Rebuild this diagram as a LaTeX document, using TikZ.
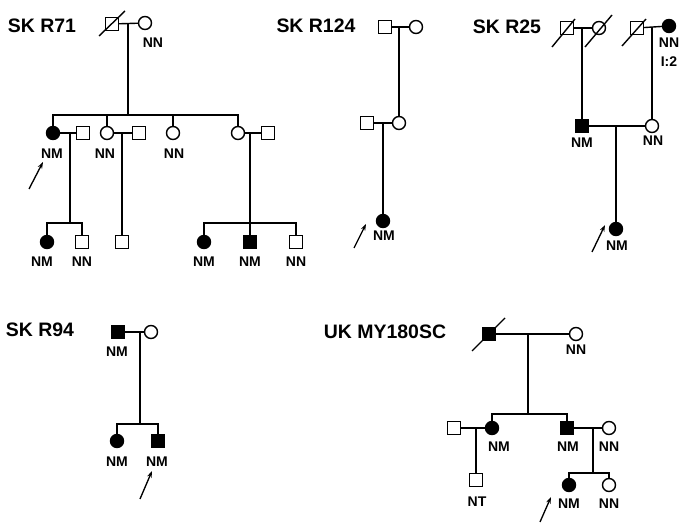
\documentclass[tikz,border=0pt]{standalone}
\usepackage{fontspec}
\setmainfont{Liberation Sans}
\usetikzlibrary{calc,arrows.meta}
\begin{document}
\begin{tikzpicture}[x=0.75pt,y=-0.75pt,line width=1.05pt,
 sq/.style={draw,rectangle,minimum size=9.5pt,inner sep=0pt},
 ci/.style={draw,circle,minimum size=9.75pt,inner sep=0pt},
 aff/.style={fill=black},
 lbl/.style={font=\fontsize{10.5}{12}\selectfont\bfseries,inner sep=0pt},
 ttl/.style={font=\fontsize{14.6}{17}\selectfont\bfseries,inner sep=0pt},
 arr/.style={-{Stealth[length=5pt,width=3.5pt]},line width=1pt}]
\useasboundingbox (0,0) rectangle (692,523);
% deceased stroke: node, lower-left offset, upper-right offset
\newcommand{\dead}[3]{\draw ($(#1)+#2$) -- ($(#1)+#3$);}

% ---------------- SK R71
\node[ttl] (t71) at (42,26) {SK R71};
\node[sq] (a1) at (112,24) {};
\node[ci] (a2) at (145,23) {};
\dead{a1}{(-13,12)}{(13,-13)}
\draw (a1) -- (a2);
\node[lbl] (la2) at (153,43) {NN};
\coordinate (am) at (128,24);
\coordinate (as) at (128,115);
\draw (am) -- (as);
\node[ci,aff] (b1) at (53,133) {};
\node[sq] (b2) at (83,133) {};
\node[ci] (b3) at (107,133) {};
\node[sq] (b4) at (139,133) {};
\node[ci] (b5) at (173,133) {};
\node[ci] (b6) at (238,133) {};
\node[sq] (b7) at (268,133) {};
\draw (b1.north) -- (b1.north |- as) -- (b6.north |- as) -- (b6.north);
\draw (b3.north) -- (b3.north |- as);
\draw (b5.north) -- (b5.north |- as);
\draw (b1) -- (b2);
\draw (b3) -- (b4);
\draw (b6) -- (b7);
\node[lbl] (lb1) at (52,154) {NM};
\node[lbl] (lb3) at (105,154) {NN};
\node[lbl] (lb5) at (174,154) {NN};
\coordinate (bm1) at (70,133);
\coordinate (bs1) at (70,223);
\coordinate (bm2) at (122,133);
\coordinate (bm3) at (250,133);
\coordinate (bs3) at (250,223);
\node[ci,aff] (c1) at (47,242) {};
\node[sq] (c2) at (82,242) {};
\node[sq] (c3) at (122,242) {};
\node[ci,aff] (c4) at (204,242) {};
\node[sq,aff] (c5) at (250,242) {};
\node[sq] (c6) at (296,242) {};
\draw (bm1) -- (bs1);
\draw (c1.north) -- (c1.north |- bs1) -- (c2.north |- bs1) -- (c2.north);
\draw (bm2) -- (bm2 |- c3.north);
\draw (bm3) -- (bm3 |- c5.north);
\draw (c4.north) -- (c4.north |- bs3) -- (c6.north |- bs3) -- (c6.north);
\node[lbl] (lc1) at (42,262) {NM};
\node[lbl] (lc2) at (82,262) {NN};
\node[lbl] (lc4) at (204,262) {NM};
\node[lbl] (lc5) at (250,262) {NM};
\node[lbl] (lc6) at (296,262) {NN};
\coordinate (p1a) at (29,189);
\coordinate (p1b) at (43,162);
\draw[arr] (p1a) -- (p1b);

% ---------------- SK R124
\node[ttl] (t124) at (316,26) {SK R124};
\node[sq] (d1) at (385,27) {};
\node[ci] (d2) at (416,27) {};
\draw (d1) -- (d2);
\coordinate (dm) at (399,27);
\node[sq] (e1) at (367,123) {};
\node[ci] (e2) at (399,123) {};
\draw (dm) -- (dm |- e2.north);
\draw (e1) -- (e2);
\coordinate (em) at (383,123);
\node[ci,aff] (f1) at (383,221) {};
\draw (em) -- (em |- f1.north);
\node[lbl] (lf1) at (384,236) {NM};
\coordinate (p2a) at (354,248);
\coordinate (p2b) at (366,224);
\draw[arr] (p2a) -- (p2b);

% ---------------- SK R25
\node[ttl] (t25) at (507,27) {SK R25};
\node[sq] (g1) at (567,28) {};
\node[ci] (g2) at (599,28) {};
\node[sq] (g3) at (637,28) {};
\node[ci,aff] (g4) at (669,26) {};
\dead{g1}{(-15,19)}{(8,-9)}
\dead{g2}{(-14,19)}{(13,-13)}
\dead{g3}{(-15,18)}{(9,-9)}
\draw (g1) -- (g2);
\draw (g3) -- (g4);
\node[lbl] (lg4) at (669,43) {NN};
\node[lbl] (lg4b) at (669,62) {I:2};
\coordinate (gm1) at (582,28);
\coordinate (gm2) at (652,27);
\node[sq,aff] (h1) at (582,126) {};
\node[ci] (h2) at (652,126) {};
\draw (gm1) -- (gm1 |- h1.north);
\draw (gm2) -- (gm2 |- h2.north);
\draw (h1) -- (h2);
\node[lbl] (lh1) at (582,143) {NM};
\node[lbl] (lh2) at (653,141) {NN};
\coordinate (hm) at (616,126);
\node[ci,aff] (i1) at (616,229) {};
\draw (hm) -- (hm |- i1.north);
\node[lbl] (li1) at (617,246) {NM};
\coordinate (p3a) at (592,252);
\coordinate (p3b) at (605,225);
\draw[arr] (p3a) -- (p3b);

% ---------------- SK R94
\node[ttl] (t94) at (40,330) {SK R94};
\node[sq,aff] (j1) at (118,332) {};
\node[ci] (j2) at (151,332) {};
\draw (j1) -- (j2);
\node[lbl] (lj1) at (117,352) {NM};
\coordinate (jm) at (140,332);
\coordinate (js) at (140,424);
\draw (jm) -- (js);
\node[ci,aff] (k1) at (117,441) {};
\node[sq,aff] (k2) at (158,441) {};
\draw (k1.north) -- (k1.north |- js) -- (k2.north |- js) -- (k2.north);
\node[lbl] (lk1) at (117,462) {NM};
\node[lbl] (lk2) at (157,462) {NM};
\coordinate (p4a) at (140,499);
\coordinate (p4b) at (152,471);
\draw[arr] (p4a) -- (p4b);

% ---------------- UK MY180SC
\node[ttl] (tuk) at (385,332) {UK MY180SC};
\node[sq,aff] (m1) at (489,334) {};
\node[ci] (m2) at (576,334) {};
\dead{m1}{(-17,17)}{(16,-16)}
\draw (m1) -- (m2);
\node[lbl] (lm2) at (576,350) {NN};
\coordinate (mm) at (528,334);
\coordinate (ms) at (528,414);
\draw (mm) -- (ms);
\node[sq] (n0) at (454,428) {};
\node[ci,aff] (n1) at (492,428) {};
\node[sq,aff] (n2) at (567,428) {};
\node[ci] (n3) at (609,428) {};
\draw (n1.north) -- (n1.north |- ms) -- (n2.north |- ms) -- (n2.north);
\draw (n0) -- (n1);
\draw (n2) -- (n3);
\node[lbl] (ln1) at (499,447) {NM};
\node[lbl] (ln2) at (568,447) {NM};
\node[lbl] (ln3) at (609,447) {NN};
\coordinate (nm1) at (476,428);
\coordinate (nm2) at (593,428);
\coordinate (ns2) at (593,473);
\node[sq] (o0) at (476,480) {};
\node[ci,aff] (o1) at (569,485) {};
\node[ci] (o2) at (609,485) {};
\draw (nm1) -- (nm1 |- o0.north);
\draw (nm2) -- (ns2);
\draw (o1.north) -- (o1.north |- ns2) -- (o2.north |- ns2) -- (o2.north);
\node[lbl] (lo0) at (477,502) {NT};
\node[lbl] (lo1) at (569,504) {NM};
\node[lbl] (lo2) at (609,504) {NN};
\coordinate (p5a) at (540,522);
\coordinate (p5b) at (551,497);
\draw[arr] (p5a) -- (p5b);
\end{tikzpicture}
\end{document}
